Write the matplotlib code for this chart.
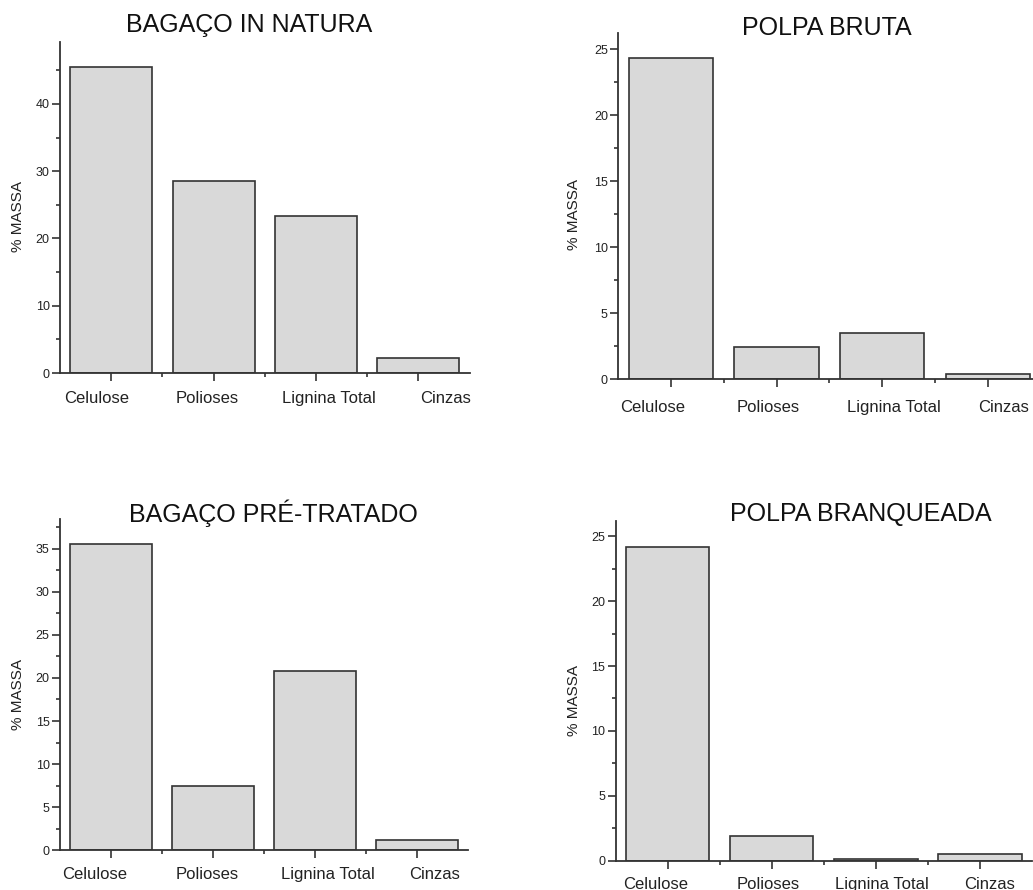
import matplotlib
matplotlib.use("Agg")
import matplotlib.pyplot as plt
import matplotlib.transforms as mtransforms
from matplotlib.ticker import MultipleLocator, FixedLocator

plt.rcParams["font.family"] = ["Liberation Sans", "DejaVu Sans"]

# ── data (% massa) ────────────────────────────────────────────
categories = ["Celulose", "Polioses", "Lignina Total", "Cinzas"]

bagaco_in_natura   = [45.5, 28.6, 23.4, 2.2]
polpa_bruta        = [24.3, 2.4, 3.5, 0.4]
bagaco_pre_tratado = [35.5, 7.5, 20.8, 1.2]
polpa_branqueada   = [24.2, 1.9, 0.1, 0.5]

titles = ["BAGAÇO IN NATURA", "POLPA BRUTA", "BAGAÇO PRÉ-TRATADO", "POLPA BRANQUEADA"]
series = [bagaco_in_natura, polpa_bruta, bagaco_pre_tratado, polpa_branqueada]

# ── layout (pixels, figure 1033 x 890) ────────────────────────
W, H = 1033, 890
# x0, x1, ytop, ybottom of each axes box
boxes = [(60, 469.5, 42, 373),
         (618.3, 1040.5, 33.3, 379),
         (60, 468, 519.3, 850.3),
         (615.7, 1032, 520.7, 860.7)]
ymax   = [49.2, 26.2, 38.4, 26.2]
major  = [10, 5, 5, 5]
title_xy  = [(249, 25), (827, 28), (273, 513), (861, 514)]
ylabel_xy = [(18, 217), (574, 215), (18, 695), (574, 700)]
label_pad = [7, 9, 6, 6]
# horizontal nudges (px) of the category labels, as in the original
label_dx = [[-15, -6, 13, 27], [-18, -8, 12, 16],
            [-16, -6, 13, 18], [-12, -4, 6, 10]]

EDGE = "#333333"
FACE = "#d9d9d9"

fig = plt.figure(figsize=(W / 100, H / 100), dpi=100)

for i in range(4):
    x0, x1, yt, yb = boxes[i]
    ax = fig.add_axes([x0 / W, (H - yb) / H, (x1 - x0) / W, (yb - yt) / H])
    ax.set_clip_on(False)
    pos = list(range(1, len(categories) + 1))
    ax.bar(pos, series[i], width=0.8, color=FACE, edgecolor=EDGE, linewidth=1.2)

    ax.set_xlim(0.5, 4.5)
    ax.set_ylim(0, ymax[i])
    ax.spines[["top", "right"]].set_visible(False)
    for s in ["left", "bottom"]:
        ax.spines[s].set_color(EDGE)
        ax.spines[s].set_linewidth(1.3)

    ax.xaxis.set_major_locator(FixedLocator(pos))
    ax.xaxis.set_minor_locator(FixedLocator([1.5, 2.5, 3.5]))
    ax.set_xticklabels(categories, fontsize=12, color="#222222")
    ax.yaxis.set_major_locator(MultipleLocator(major[i]))
    ax.yaxis.set_minor_locator(MultipleLocator(major[i] / 2))
    ax.tick_params(axis="both", which="major", length=6, width=1.2, color=EDGE)
    ax.tick_params(axis="both", which="minor", length=3, width=1.2, color=EDGE)
    ax.tick_params(axis="y", labelsize=9, pad=1.5, labelcolor="#222222")
    ax.tick_params(axis="x", pad=label_pad[i])

    for lab, dx in zip(ax.get_xticklabels(), label_dx[i]):
        lab.set_transform(lab.get_transform() +
                          mtransforms.ScaledTranslation(dx / 100, 0, fig.dpi_scale_trans))

    tx, ty = title_xy[i]
    fig.text(tx / W, 1 - ty / H, titles[i], fontsize=18, ha="center", va="center",
             color="#111111")
    lx, ly = ylabel_xy[i]
    fig.text(lx / W, 1 - ly / H, "% MASSA", fontsize=11, rotation=90,
             ha="center", va="center", color="#222222")

fig.savefig("out.png", dpi=100)
